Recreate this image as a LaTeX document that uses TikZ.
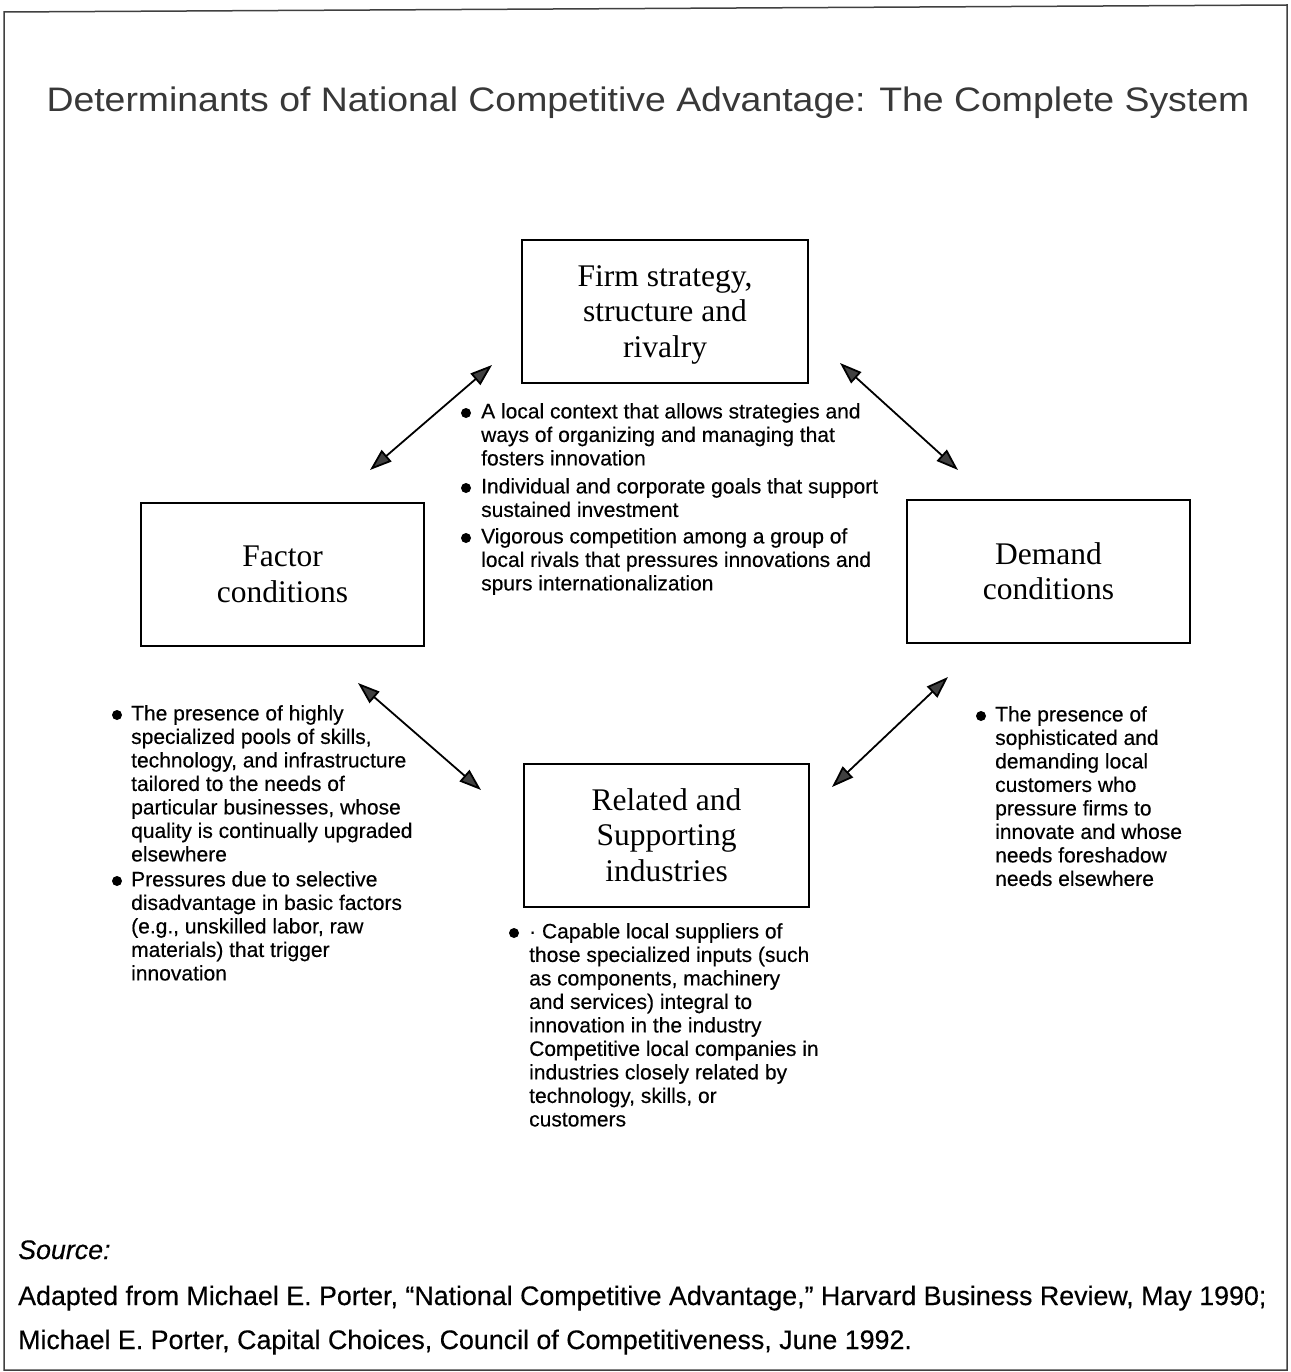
\documentclass[tikz,border=0pt]{standalone}
\usepackage{fontspec}
\setmainfont{Liberation Serif}
\setsansfont{Liberation Sans}
\newfontfamily\notefont{Liberation Sans}[FakeBold=0.35]
\usetikzlibrary{arrows.meta}

\begin{document}
\begin{tikzpicture}[x=1pt,y=-1pt,
  block/.style={draw, line width=2pt, minimum width=#1, minimum height=143pt,
    align=center, inner sep=0pt, font=\fontsize{31.5}{35.5}\selectfont},
  note/.style={anchor=north west, inner sep=0pt, align=left,
    font=\notefont\fontsize{21}{23.5}\selectfont},
  dot/.style={circle, fill, inner sep=0pt, minimum size=10pt},
  link/.style={line width=1.8pt,
    {Triangle[length=22pt,width=15pt,fill=darkgray]}-{Triangle[length=22pt,width=15pt,fill=darkgray]}},
  src/.style={anchor=base west, inner sep=0pt, font=\notefont\fontsize{26.8}{30}\selectfont}]

\useasboundingbox (0,0) rectangle (1290,1372);
\fill[white] (0,0) rectangle (1290,1372);

% outer frame
\draw[line width=1.5pt, black!75] (4,12) -- (1287,5) -- (1287,1370) -- (4,1370) -- cycle;

% title
\node[font=\sffamily\fontsize{34}{38}\selectfont, text=black!78, inner sep=0pt, anchor=base]
  (title) at (648,112) {\scalebox{1.1}[1]{Determinants of National Competitive Advantage: The Complete System}};

% the four determinants
\node[block=286pt, text depth=0pt] (firm) at (665,311.5) {Firm strategy,\\structure and\\rivalry};
\node[block=283pt] (factor) at (282.5,574.5) {Factor\\conditions};
\node[block=283pt] (demand) at (1048.5,571) {Demand\\conditions};
\node[block=285pt] (related) at (666.5,835) {Related and\\Supporting\\industries};

% links between determinants
\coordinate (a1) at (370,470); \coordinate (a2) at (492,365);
\coordinate (b1) at (840,363); \coordinate (b2) at (958,470);
\coordinate (c1) at (358,683); \coordinate (c2) at (481,790);
\coordinate (d1) at (948,677); \coordinate (d2) at (832,787);
\draw[link] (a1) -- (a2);
\draw[link] (b1) -- (b2);
\draw[link] (c1) -- (c2);
\draw[link] (d1) -- (d2);

% firm strategy notes
\node[dot] (f1d) at (466,413) {};
\node[note] (f1) at (481,403) {A local context that allows strategies and\\ways of organizing and managing that\\fosters innovation};
\node[dot] (f2d) at (466,488) {};
\node[note] (f2) at (481,478) {Individual and corporate goals that support\\sustained investment};
\node[dot] (f3d) at (466,538) {};
\node[note] (f3) at (481,528) {Vigorous competition among a group of\\local rivals that pressures innovations and\\spurs internationalization};

% factor notes
\node[dot] (l1d) at (117,715) {};
\node[note] (l1) at (131,705) {The presence of highly\\specialized pools of skills,\\technology, and infrastructure\\tailored to the needs of\\particular businesses, whose\\quality is continually upgraded\\elsewhere};
\node[dot] (l2d) at (117,881) {};
\node[note] (l2) at (131,871) {Pressures due to selective\\disadvantage in basic factors\\(e.g., unskilled labor, raw\\materials) that trigger\\innovation};

% demand notes
\node[dot] (r1d) at (981,716) {};
\node[note] (r1) at (995,706) {The presence of\\sophisticated and\\demanding local\\customers who\\pressure firms to\\innovate and whose\\needs foreshadow\\needs elsewhere};

% related industries notes
\node[dot] (b1d) at (514,933) {};
\node[note] (bt) at (529,923) {\textperiodcentered\ Capable local suppliers of\\those specialized inputs (such\\as components, machinery\\and services) integral to\\innovation in the industry\\Competitive local companies in\\industries closely related by\\technology, skills, or\\customers};

% source
\node[src, font=\notefont\itshape\fontsize{26.8}{30}\selectfont] (s0) at (18,1259) {Source:};
\node[src] (s1) at (18,1305) {Adapted from Michael E. Porter, “National Competitive Advantage,” Harvard Business Review, May 1990;};
\node[src] (s2) at (18,1349) {Michael E. Porter, Capital Choices, Council of Competitiveness, June 1992.};
\end{tikzpicture}
\end{document}
